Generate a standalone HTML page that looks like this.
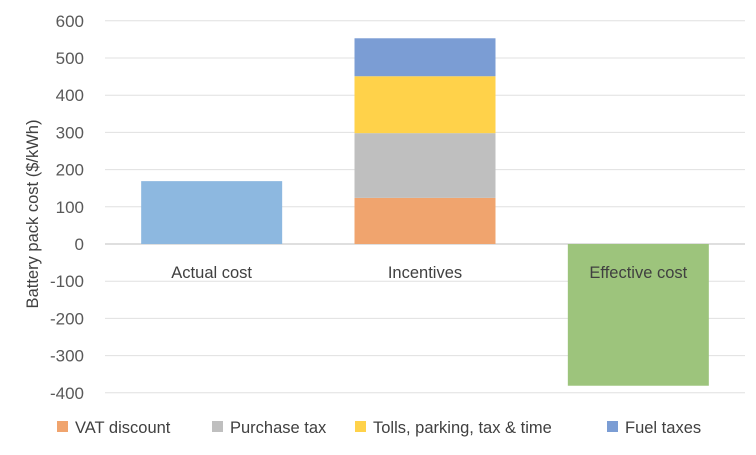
<!DOCTYPE html>
<html><head><meta charset="utf-8"><style>
body{margin:0;background:#fff;}
svg{display:block;font-family:"Liberation Sans",sans-serif;}
</style></head><body>
<svg id="chart" width="756" height="455">
<g id="grid"></g>
<g id="bars"></g>
<g id="axis"></g>
<text x="38" y="214" transform="rotate(-90 38 214)" text-anchor="middle" font-size="16.5" fill="#404040">Battery pack cost ($/kWh)</text>
<g id="legend"></g>
</svg>
<script>
const categories=["Actual cost","Incentives","Effective cost"];
const seriesNames=["VAT discount","Purchase tax","Tolls, parking, tax & time","Fuel taxes"];
const seriesColors=["#f0a46e","#bfbfbf","#ffd24a","#7b9dd4"];
const actualValues=[169];
const incentiveValues=[124,174,153,102];
const effectiveValues=[-381];
const ticks=[600,500,400,300,200,100,0,-100,-200,-300,-400];
const NS="http://www.w3.org/2000/svg";
const x0=105,x1=745,y0v=244,scale=37.2/100;
const y=v=>y0v-v*scale;
const bandW=(x1-x0)/categories.length;
const barW=141;
const bx=i=>x0+bandW*i+(bandW-barW)/2;
function mk(t,a,p){const e=document.createElementNS(NS,t);for(const k in a)e.setAttribute(k,a[k]);p.appendChild(e);return e;}
const grid=document.getElementById('grid'),bars=document.getElementById('bars'),axis=document.getElementById('axis'),legend=document.getElementById('legend');
ticks.forEach(t=>{
 const l=mk('line',{x1:x0,x2:x1,y1:y(t),y2:y(t),stroke:t===0?'#bfbfbf':'#e0e0e0','stroke-width':1},grid);
 
 
 const tx=mk('text',{x:84,y:y(t)+6,'text-anchor':'end','font-size':17,fill:'#595959'},axis);
 tx.textContent=t;
 
 
});
function bar(i,lo,hi,c,name){
 const r=mk('rect',{x:bx(i),y:y(Math.max(lo,hi)),width:barW,height:Math.abs(y(lo)-y(hi)),fill:c},bars);
 
 
}
bar(0,0,actualValues[0],'#8db8e0','bar-actual-cost');
let acc=0;
incentiveValues.forEach((v,k)=>{bar(1,acc,acc+v,seriesColors[k],'bar-incentive-'+k);acc+=v;});
bar(2,0,effectiveValues[0],'#9dc47c','bar-effective-cost');
categories.forEach((c,i)=>{
 const t=mk('text',{x:x0+bandW*(i+0.5),y:278,'text-anchor':'middle','font-size':16.5,fill:'#404040'},axis);
 t.textContent=c;
 
 
});
const lx=[57,212,355,607];
seriesNames.forEach((n,k)=>{
 const r=mk('rect',{x:lx[k],y:421,width:11,height:11,fill:seriesColors[k]},legend);
 
 
 const t=mk('text',{x:lx[k]+18,y:433,'font-size':16.5,fill:'#404040'},legend);
 t.textContent=n;
 
 
});
</script>
</body></html>
